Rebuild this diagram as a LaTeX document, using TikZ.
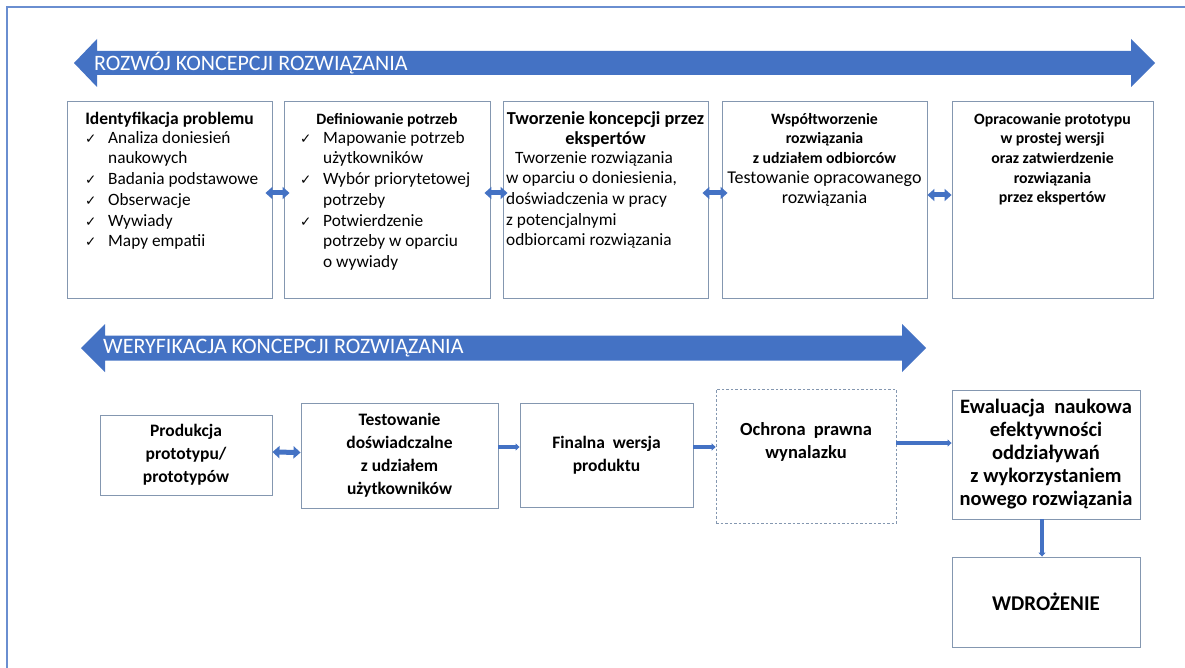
\documentclass[tikz,border=0pt]{standalone}
\usepackage{fontspec}
\setmainfont{Carlito}
\newfontfamily\symfont{DejaVu Sans}
\usepackage{tikz}
\usetikzlibrary{arrows.meta}
\definecolor{arrow_blue}{HTML}{4472C4}
\definecolor{frame_blue}{HTML}{6A8ED0}
\definecolor{box_gray}{HTML}{8497B0}

\newcommand{\chk}{\makebox[23pt][l]{\symfont\fontsize{13.5}{13.5}\selectfont ✓}}
\newcommand{\cont}{\hspace*{23pt}}

\tikzset{
  box/.style={draw=box_gray, line width=0.9pt, fill=white, inner sep=0pt},
  dashbox/.style={draw=box_gray, line width=0.7pt, dash pattern=on 2.5pt off 2pt, inner sep=0pt},
  title/.style={font=\bfseries\fontsize{15.8}{19.6}\selectfont, align=center, inner sep=0pt, anchor=north},
  body/.style={font=\fontsize{17.3}{20.7}\selectfont, align=left, inner sep=0pt, anchor=north west},
  lower/.style={font=\bfseries\fontsize{17.5}{23}\selectfont, align=center},
  banner/.style={font=\fontsize{22}{22}\selectfont, text=white, anchor=west, inner sep=0pt},
  dlink/.style={arrow_blue, line width=5pt, {Triangle[length=7pt,width=12pt]}-{Triangle[length=7pt,width=12pt]}},
  slink/.style={arrow_blue, line width=3.5pt, -{Triangle[length=4pt,width=7pt]}}
}

\begin{document}
\begin{tikzpicture}[x=1pt, y=-1pt]

      % Page and frame
      \useasboundingbox (0,0) rectangle (1185,668);
      \fill[white] (0,0) rectangle (1185,668);
      \draw[frame_blue, line width=1.5pt] (7,7) rectangle (1200,690);

      % Big arrow: development
      \fill[arrow_blue] (74,63) -- (97,39) -- (97,51) -- (1131,51) -- (1131,39)
        -- (1155,63) -- (1131,87) -- (1131,75) -- (97,75) -- (97,87) -- cycle;
      \node[banner] (rozwoj) at (94,63) {ROZWÓJ KONCEPCJI ROZWIĄZANIA};

      % Top row of boxes
      \node[box, minimum width=205pt, minimum height=197pt] (ident) at (169.5,199.5) {};
      \node[box, minimum width=206pt, minimum height=197pt] (defin) at (387,199.5) {};
      \node[box, minimum width=205pt, minimum height=197pt] (tworz) at (605.5,199.5) {};
      \node[box, minimum width=205pt, minimum height=197pt] (wspol) at (824.5,199.5) {};
      \node[box, minimum width=201pt, minimum height=197pt] (oprac) at (1052.5,199.5) {};

      % Texts of the top row
      \node[title, font=\bfseries\fontsize{17.5}{19.6}\selectfont] (ident-t) at (169.5,112) {Identyfikacja problemu};
      \node[body] (ident-l) at (85,131) {\chk Analiza doniesień\\ \cont naukowych\\
        \chk Badania podstawowe\\ \chk Obserwacje\\ \chk Wywiady\\ \chk Mapy empatii};

      \node[title] (defin-t) at (387,113) {Definiowanie potrzeb};
      \node[body] (defin-l) at (300,131) {\chk Mapowanie potrzeb\\ \cont użytkowników\\
        \chk Wybór priorytetowej\\ \cont potrzeby\\ \chk Potwierdzenie\\
        \cont potrzeby w oparciu\\ \cont o wywiady};

      \node[title, font=\bfseries\fontsize{18.3}{20}\selectfont] (tworz-t) at (605.5,111)
        {Tworzenie koncepcji przez\\ ekspertów};
      \node[body] (tworz-l) at (506,151) {\hspace*{9pt}Tworzenie rozwiązania\\
        w oparciu o doniesienia,\\ doświadczenia w pracy\\ z potencjalnymi\\
        odbiorcami rozwiązania};

      \node[title] (wspol-t) at (824.5,113) {Współtworzenie\\ rozwiązania\\ z udziałem odbiorców};
      \node[title, font=\fontsize{18}{20}\selectfont] (wspol-l) at (824.5,171)
        {Testowanie opracowanego\\ rozwiązania};

      \node[title] (oprac-t) at (1052.5,113) {Opracowanie prototypu\\ w prostej wersji\\
        oraz zatwierdzenie\\ rozwiązania\\ przez ekspertów};

      % Links of the top row
      \draw[dlink, shorten <=-7pt, shorten >=-6pt] ([yshift=6.5pt]ident.east) -- ([yshift=6.5pt]defin.west);
      \draw[dlink, shorten <=-6pt, shorten >=-5pt] ([yshift=6.5pt]defin.east) -- ([yshift=6.5pt]tworz.west);
      \draw[dlink, shorten <=-6pt, shorten >=-6pt] ([yshift=6.5pt]tworz.east) -- ([yshift=6.5pt]wspol.west);
      \draw[dlink] ([yshift=4.5pt]wspol.east) -- ([yshift=4.5pt]oprac.west);

      % Big arrow: verification
      \fill[arrow_blue] (81,348) -- (105,324) -- (105,335.5) -- (902,335.5) -- (902,324)
        -- (926,348) -- (902,372) -- (902,360.5) -- (105,360.5) -- (105,372) -- cycle;
      \node[banner] (weryf) at (103,348) {WERYFIKACJA KONCEPCJI ROZWIĄZANIA};

      % Bottom row of boxes
      \node[box, lower, minimum width=172pt, minimum height=80pt] (prod) at (186,455)
        {Produkcja\\ prototypu/\\ prototypów};
      \node[box, lower, minimum width=197pt, minimum height=105pt] (test) at (399.5,455.5)
        {Testowanie\\ doświadczalne\\ z udziałem\\ użytkowników};
      \node[box, lower, minimum width=173pt, minimum height=104pt] (final) at (606.5,455)
        {Finalna\ \ wersja\\ produktu};
      \node[dashbox, minimum width=180pt, minimum height=134pt] (ochr) at (806,456) {};
      \node[lower, inner sep=0pt, font=\bfseries\fontsize{18.5}{23.5}\selectfont] (ochr-t) at (806,442)
        {Ochrona\ \ prawna\\ wynalazku};
      \node[box, lower, font=\bfseries\fontsize{20.5}{23}\selectfont, minimum width=188pt, minimum height=129pt]
        (ewal) at (1046,454.5)
        {Ewaluacja\ \ naukowa\\ efektywności\\ oddziaływań\\ z wykorzystaniem\\ nowego rozwiązania};
      \node[box, minimum width=188pt, minimum height=90pt, font=\bfseries\fontsize{21}{21}\selectfont]
        (wdroz) at (1046,602) {WDROŻENIE};

      % Links of the bottom row
      \draw[dlink] ([yshift=3pt]prod.east) -- ([yshift=3pt]test.west);
      \draw[slink] ([yshift=8.5pt]test.east) -- ([yshift=8pt]final.west);
      \draw[slink] ([yshift=8pt]final.east) -- ([yshift=9pt]ochr.west);
      \draw[slink] ([yshift=13pt]ochr.east) -- ([yshift=11.5pt]ewal.west);
      \draw[slink] ([xshift=-4pt]ewal.south) -- ([xshift=-4pt]wdroz.north);

\end{tikzpicture}
\end{document}
